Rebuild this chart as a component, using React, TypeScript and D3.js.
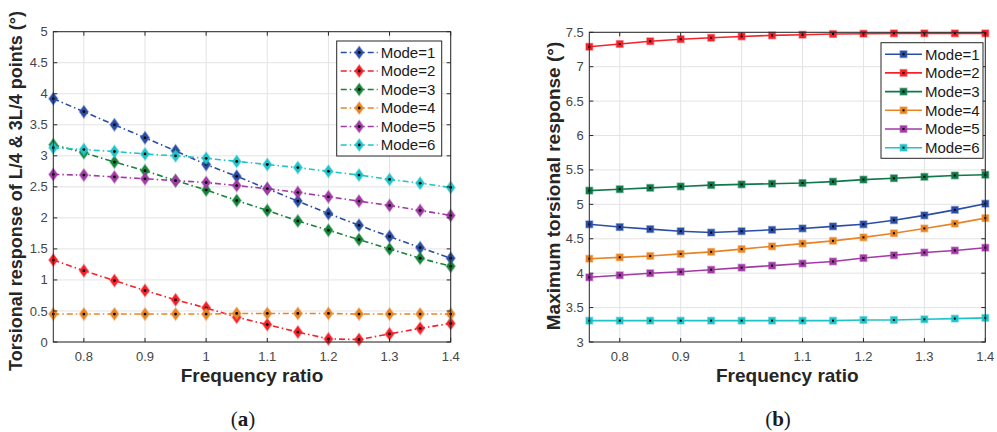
import React from "react";
import * as d3 from "d3";

// Frequency ratios shared by both panels
const freqRatio = [0.75, 0.8, 0.85, 0.9, 0.95, 1.0, 1.05, 1.1, 1.15, 1.2, 1.25, 1.3, 1.35, 1.4];
const modeNames = ["Mode=1", "Mode=2", "Mode=3", "Mode=4", "Mode=5", "Mode=6"];
const xTicks = [0.8, 0.9, 1.0, 1.1, 1.2, 1.3, 1.4];

// (a) torsional response at L/4 & 3L/4 points
const quarterMode1 = [3.92, 3.71, 3.5, 3.29, 3.08, 2.86, 2.67, 2.47, 2.27, 2.07, 1.88, 1.7, 1.52, 1.35];
const quarterMode2 = [1.32, 1.15, 0.99, 0.83, 0.68, 0.55, 0.4, 0.28, 0.16, 0.05, 0.04, 0.13, 0.22, 0.3];
const quarterMode3 = [3.18, 3.05, 2.9, 2.76, 2.6, 2.45, 2.28, 2.12, 1.95, 1.8, 1.65, 1.5, 1.35, 1.22];
const quarterMode4 = [0.45, 0.45, 0.45, 0.45, 0.45, 0.45, 0.46, 0.46, 0.46, 0.46, 0.45, 0.45, 0.45, 0.45];
const quarterMode5 = [2.7, 2.69, 2.66, 2.63, 2.6, 2.57, 2.52, 2.47, 2.41, 2.34, 2.27, 2.2, 2.12, 2.04];
const quarterMode6 = [3.13, 3.1, 3.07, 3.03, 3.0, 2.96, 2.91, 2.86, 2.81, 2.75, 2.69, 2.62, 2.56, 2.49];
const quarterTicks = [0, 0.5, 1, 1.5, 2, 2.5, 3, 3.5, 4, 4.5, 5];

// (b) maximum torsional response
const maxMode1 = [4.71, 4.67, 4.64, 4.61, 4.59, 4.61, 4.63, 4.65, 4.68, 4.71, 4.77, 4.84, 4.92, 5.01];
const maxMode2 = [7.29, 7.33, 7.37, 7.4, 7.42, 7.44, 7.455, 7.465, 7.475, 7.48, 7.485, 7.485, 7.485, 7.485];
const maxMode3 = [5.2, 5.22, 5.24, 5.26, 5.28, 5.29, 5.3, 5.31, 5.33, 5.36, 5.38, 5.4, 5.42, 5.43];
const maxMode4 = [4.21, 4.23, 4.25, 4.28, 4.31, 4.35, 4.39, 4.43, 4.47, 4.52, 4.58, 4.65, 4.72, 4.8];
const maxMode5 = [3.94, 3.97, 4.0, 4.02, 4.05, 4.08, 4.11, 4.14, 4.17, 4.22, 4.26, 4.3, 4.33, 4.37];
const maxMode6 = [3.31, 3.31, 3.31, 3.31, 3.31, 3.31, 3.31, 3.31, 3.31, 3.32, 3.32, 3.33, 3.34, 3.35];
const maxTicks = [3, 3.5, 4, 4.5, 5, 5.5, 6, 6.5, 7, 7.5];

const colorsA = ["#2a4ea6", "#f5222a", "#16843a", "#e98424", "#a23aa6", "#1fc4c8"];
const colorsB = ["#2a4ea6", "#f5222a", "#10794a", "#e98424", "#a23aa6", "#1fc4c8"];

const FONT = "'Liberation Sans', Arial, Helvetica, sans-serif";
const SERIF = "'Liberation Serif', 'Times New Roman', serif";
const AXIS = "#262626";

type PanelProps = {
  series: number[][];
  colors: string[];
  yDomain: [number, number];
  yTicks: number[];
  left: number;
  right: number;
  top: number;
  bottom: number;
  yTitle: string;
  yTitleX: number;
  yTitleY: number;
  yTitleSize: number;
  marker: "diamond" | "square";
  dashed: boolean;
  legend: { x: number; y: number; w: number; h: number; row: number };
};

function Marker({ kind, x, y, color }: { kind: string; x: number; y: number; color: string }) {
  if (kind === "diamond") {
    const rx = 4.3;
    const ry = 6;
    const d = `M${x},${y - ry}L${x + rx},${y}L${x},${y + ry}L${x - rx},${y}Z`;
    return (
      <g>
        <path d={d} fill={color} stroke={color} strokeOpacity={0.45} strokeWidth={1.6} />
        <circle cx={x} cy={y} r={1.4} fill="#000" />
      </g>
    );
  }
  const s = 3.3;
  return (
    <g>
      <rect x={x - s} y={y - s} width={2 * s} height={2 * s} fill={color} stroke={color} strokeOpacity={0.45} strokeWidth={1.5} />
      <rect x={x - 1} y={y - 1} width={2} height={2} fill="#000" />
    </g>
  );
}

function Panel(p: PanelProps) {
  const x = d3.scaleLinear().domain([0.75, 1.4]).range([p.left, p.right]);
  const y = d3.scaleLinear().domain(p.yDomain).range([p.bottom, p.top]);
  const line = d3
    .line<number>()
    .x((_, i) => x(freqRatio[i]))
    .y((v) => y(v));
  const dash = p.dashed ? "6,3,1.5,3" : undefined;
  const tickLen = 4;
  return (
    <g>
      {/* grid */}
      {xTicks.map((t) => (
        <line key={"gx" + t} x1={x(t)} x2={x(t)} y1={p.top} y2={p.bottom} stroke="#e3e3e3" strokeWidth={1} />
      ))}
      {p.yTicks.map((t) => (
        <line key={"gy" + t} x1={p.left} x2={p.right} y1={y(t)} y2={y(t)} stroke="#e3e3e3" strokeWidth={1} />
      ))}
      {/* series */}
      {p.series.map((s, k) => (
        <path key={"l" + k} d={line(s) || ""} fill="none" stroke={p.colors[k]} strokeWidth={1.6} strokeDasharray={dash} />
      ))}
      {p.series.map((s, k) => (
        <g key={"m" + k}>
          {s.map((v, i) => (
            <Marker key={i} kind={p.marker} x={x(freqRatio[i])} y={y(v)} color={p.colors[k]} />
          ))}
        </g>
      ))}
      {/* axes box and ticks */}
      <rect x={p.left} y={p.top} width={p.right - p.left} height={p.bottom - p.top} fill="none" stroke={AXIS} strokeWidth={1} />
      {xTicks.map((t) => (
        <g key={"tx" + t}>
          <line x1={x(t)} x2={x(t)} y1={p.bottom} y2={p.bottom - tickLen} stroke={AXIS} />
          <line x1={x(t)} x2={x(t)} y1={p.top} y2={p.top + tickLen} stroke={AXIS} />
          <text x={x(t)} y={p.bottom + 18.5} textAnchor="middle" fontSize={13} fill="#454545" fontFamily={FONT}>
            {d3.format("")(t)}
          </text>
        </g>
      ))}
      {p.yTicks.map((t) => (
        <g key={"ty" + t}>
          <line x1={p.left} x2={p.left + tickLen} y1={y(t)} y2={y(t)} stroke={AXIS} />
          <line x1={p.right} x2={p.right - tickLen} y1={y(t)} y2={y(t)} stroke={AXIS} />
          <text x={p.left - 5.5} y={y(t)} dy="0.35em" textAnchor="end" fontSize={13} fill="#454545" fontFamily={FONT}>
            {d3.format("")(t)}
          </text>
        </g>
      ))}
      {/* titles */}
      <text
        x={(p.left + p.right) / 2}
        y={382}
        textAnchor="middle"
        fontSize={19}
        fontWeight="bold"
        fill={AXIS}
        fontFamily={FONT}
      >
        Frequency ratio
      </text>
      <text
        transform={`translate(${p.yTitleX},${p.yTitleY}) rotate(-90)`}
        textAnchor="middle"
        fontSize={p.yTitleSize}
        fontWeight="bold"
        fill={AXIS}
        fontFamily={FONT}
      >
        {p.yTitle}
      </text>
      {/* legend */}
      <rect x={p.legend.x} y={p.legend.y} width={p.legend.w} height={p.legend.h} fill="#fff" stroke={AXIS} strokeWidth={1} />
      {modeNames.map((name, k) => {
        const ry = p.legend.y + 11.5 + k * p.legend.row;
        const lx0 = p.legend.x + 4;
        const lx1 = p.legend.x + 41;
        return (
          <g key={"lg" + k}>
            <line x1={lx0} x2={lx1} y1={ry} y2={ry} stroke={p.colors[k]} strokeWidth={1.6} strokeDasharray={dash} />
            <Marker kind={p.marker} x={(lx0 + lx1) / 2} y={ry} color={p.colors[k]} />
            <text x={lx1 + 3} y={ry} dy="0.36em" fontSize={15} fill="#1a1a1a" fontFamily={FONT}>
              {name}
            </text>
          </g>
        );
      })}
    </g>
  );
}

export default function App() {
  return (
    <svg width={997} height={432} style={{ display: "block", position: "absolute", left: 0, top: 0, background: "#fff" }}>
      <rect width={997} height={432} fill="#fff" />
      <Panel
        series={[quarterMode1, quarterMode2, quarterMode3, quarterMode4, quarterMode5, quarterMode6]}
        colors={colorsA}
        yDomain={[0, 5]}
        yTicks={quarterTicks}
        left={53.3}
        right={450.7}
        top={31.7}
        bottom={342}
        yTitle="Torsional response of L/4 & 3L/4 points (°)"
        yTitleX={21.5}
        yTitleY={191}
        yTitleSize={18}
        marker="diamond"
        dashed={true}
        legend={{ x: 336.7, y: 41, w: 105, h: 115, row: 18.5 }}
      />
      <Panel
        series={[maxMode1, maxMode2, maxMode3, maxMode4, maxMode5, maxMode6]}
        colors={colorsB}
        yDomain={[3, 7.5]}
        yTicks={maxTicks}
        left={589.3}
        right={985.3}
        top={32.3}
        bottom={342}
        yTitle="Maximum torsional response (°)"
        yTitleX={560}
        yTitleY={186}
        yTitleSize={19}
        marker="square"
        dashed={false}
        legend={{ x: 881, y: 42.7, w: 102, h: 115.6, row: 18.7 }}
      />
      <text x={243} y={426} textAnchor="middle" fontSize={21} fill="#1a1a1a" fontFamily={SERIF}>
        (<tspan fontWeight="bold">a</tspan>)
      </text>
      <text x={778} y={426} textAnchor="middle" fontSize={21} fill="#1a1a1a" fontFamily={SERIF}>
        (<tspan fontWeight="bold">b</tspan>)
      </text>
    </svg>
  );
}
